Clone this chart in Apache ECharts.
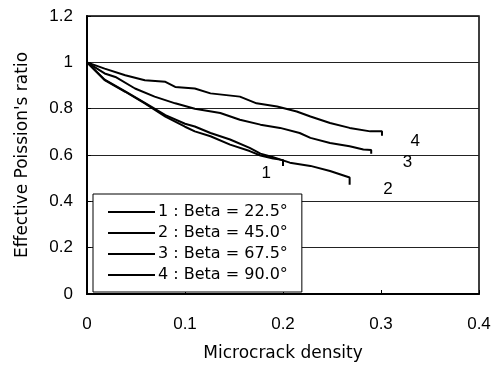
<!DOCTYPE html>
<html>
<head>
<meta charset="utf-8">
<script src="https://cdn.jsdelivr.net/npm/echarts@6/dist/echarts.min.js"></script>
<style>
  html, body { margin: 0; padding: 0; background: #fff; }
  #main { width: 502px; height: 367px; }
</style>
</head>
<body>
<div id="main"></div>
<script>
// values
const names = ['1 : Beta = 22.5°', '2 : Beta = 45.0°', '3 : Beta = 67.5°', '4 : Beta = 90.0°'];

const beta225 = [[0, 1], [0.018, 0.923], [0.039, 0.873], [0.059, 0.823], [0.080, 0.766], [0.100, 0.722],
  [0.110, 0.702], [0.126, 0.681], [0.146, 0.645], [0.166, 0.617], [0.177, 0.598], [0.190, 0.585],
  [0.197, 0.580], [0.200, 0.578], [0.200, 0.552]];
const beta450 = [[0, 1], [0.018, 0.925], [0.039, 0.875], [0.059, 0.825], [0.080, 0.772], [0.100, 0.735],
  [0.110, 0.723], [0.126, 0.695], [0.146, 0.667], [0.166, 0.631], [0.177, 0.606], [0.190, 0.590],
  [0.207, 0.567], [0.228, 0.553], [0.248, 0.531], [0.268, 0.503], [0.268, 0.472]];
const beta675 = [[0, 1], [0.018, 0.952], [0.029, 0.937], [0.049, 0.887], [0.069, 0.852], [0.090, 0.823],
  [0.110, 0.800], [0.136, 0.781], [0.156, 0.752], [0.177, 0.731], [0.197, 0.717], [0.217, 0.695],
  [0.228, 0.674], [0.248, 0.652], [0.268, 0.638], [0.282, 0.624], [0.290, 0.622], [0.290, 0.605]];
const beta900 = [[0, 1], [0.018, 0.973], [0.039, 0.944], [0.059, 0.923], [0.080, 0.916], [0.090, 0.894],
  [0.110, 0.887], [0.126, 0.866], [0.156, 0.852], [0.173, 0.823], [0.194, 0.809], [0.214, 0.788],
  [0.228, 0.766], [0.248, 0.738], [0.268, 0.717], [0.289, 0.702], [0.301, 0.703], [0.301, 0.683]];

// curve number labels (data coords)
const curveLabels = [['1', 0.183, 0.521], ['2', 0.307, 0.453], ['3', 0.327, 0.568], ['4', 0.335, 0.658]];

const font = '"Liberation Sans", Arial, sans-serif';
const wideFont = '"DejaVu Sans", sans-serif';
const chart = echarts.init(document.getElementById('main'));

const allData = [beta225, beta450, beta675, beta900];
const series = allData.map((d, i) => ({
  type: 'line',
  name: names[i],
  data: d,
  symbol: 'none',
  animation: false,
  lineStyle: { color: '#000', width: 2 },
  itemStyle: { color: '#000' },
  z: 3,
  markPoint: {
    symbol: 'circle',
    symbolSize: 0,
    silent: true,
    animation: false,
    itemStyle: { color: '#000', opacity: 1 },
    label: {
      show: true, position: 'inside', formatter: curveLabels[i][0],
      color: '#000', fontSize: 17, fontFamily: font,
      textBorderWidth: 0, textBorderColor: 'transparent'
    },
    data: [{ coord: [curveLabels[i][1], curveLabels[i][2]] }]
  }
}));

chart.setOption({
  backgroundColor: '#fff',
  textStyle: { fontFamily: font },
  grid: { left: 87, right: 23, top: 16, bottom: 70, show: true, borderColor: '#000', borderWidth: 1.5 },
  legend: {
    data: names,
    orient: 'vertical',
    left: 93, top: 194,
    backgroundColor: '#fff',
    borderColor: '#000', borderWidth: 1,
    borderRadius: 0,
    padding: [10, 14, 9, 15],
    itemWidth: 47, itemHeight: 2,
    itemGap: 5,
    icon: 'rect',
    textStyle: { color: '#000', fontSize: 16, fontFamily: wideFont, padding: [0, 0, 0, -2] }
  },
  xAxis: {
    type: 'value', min: 0, max: 0.4, interval: 0.1,
    name: 'Microcrack density', nameLocation: 'middle', nameGap: 51,
    nameTextStyle: { color: '#000', fontSize: 17, fontFamily: wideFont },
    axisLine: { lineStyle: { color: '#000', width: 2 } },
    axisTick: { show: true, inside: true, length: 4, lineStyle: { color: '#000' } },
    axisLabel: { color: '#000', fontSize: 17, margin: 22, fontFamily: font },
    splitLine: { show: false }
  },
  yAxis: {
    type: 'value', min: 0, max: 1.2, interval: 0.2,
    name: "Effective Poission's ratio", nameLocation: 'middle', nameGap: 56,
    nameTextStyle: { color: '#000', fontSize: 17, fontFamily: wideFont },
    axisLine: { lineStyle: { color: '#000', width: 2 } },
    axisTick: { show: true, inside: true, length: 4, lineStyle: { color: '#000' } },
    axisLabel: { color: '#000', fontSize: 17, margin: 14, fontFamily: font },
    splitLine: { show: true, lineStyle: { color: '#222', width: 1 } }
  },
  series: series
});
</script>
</body>
</html>
